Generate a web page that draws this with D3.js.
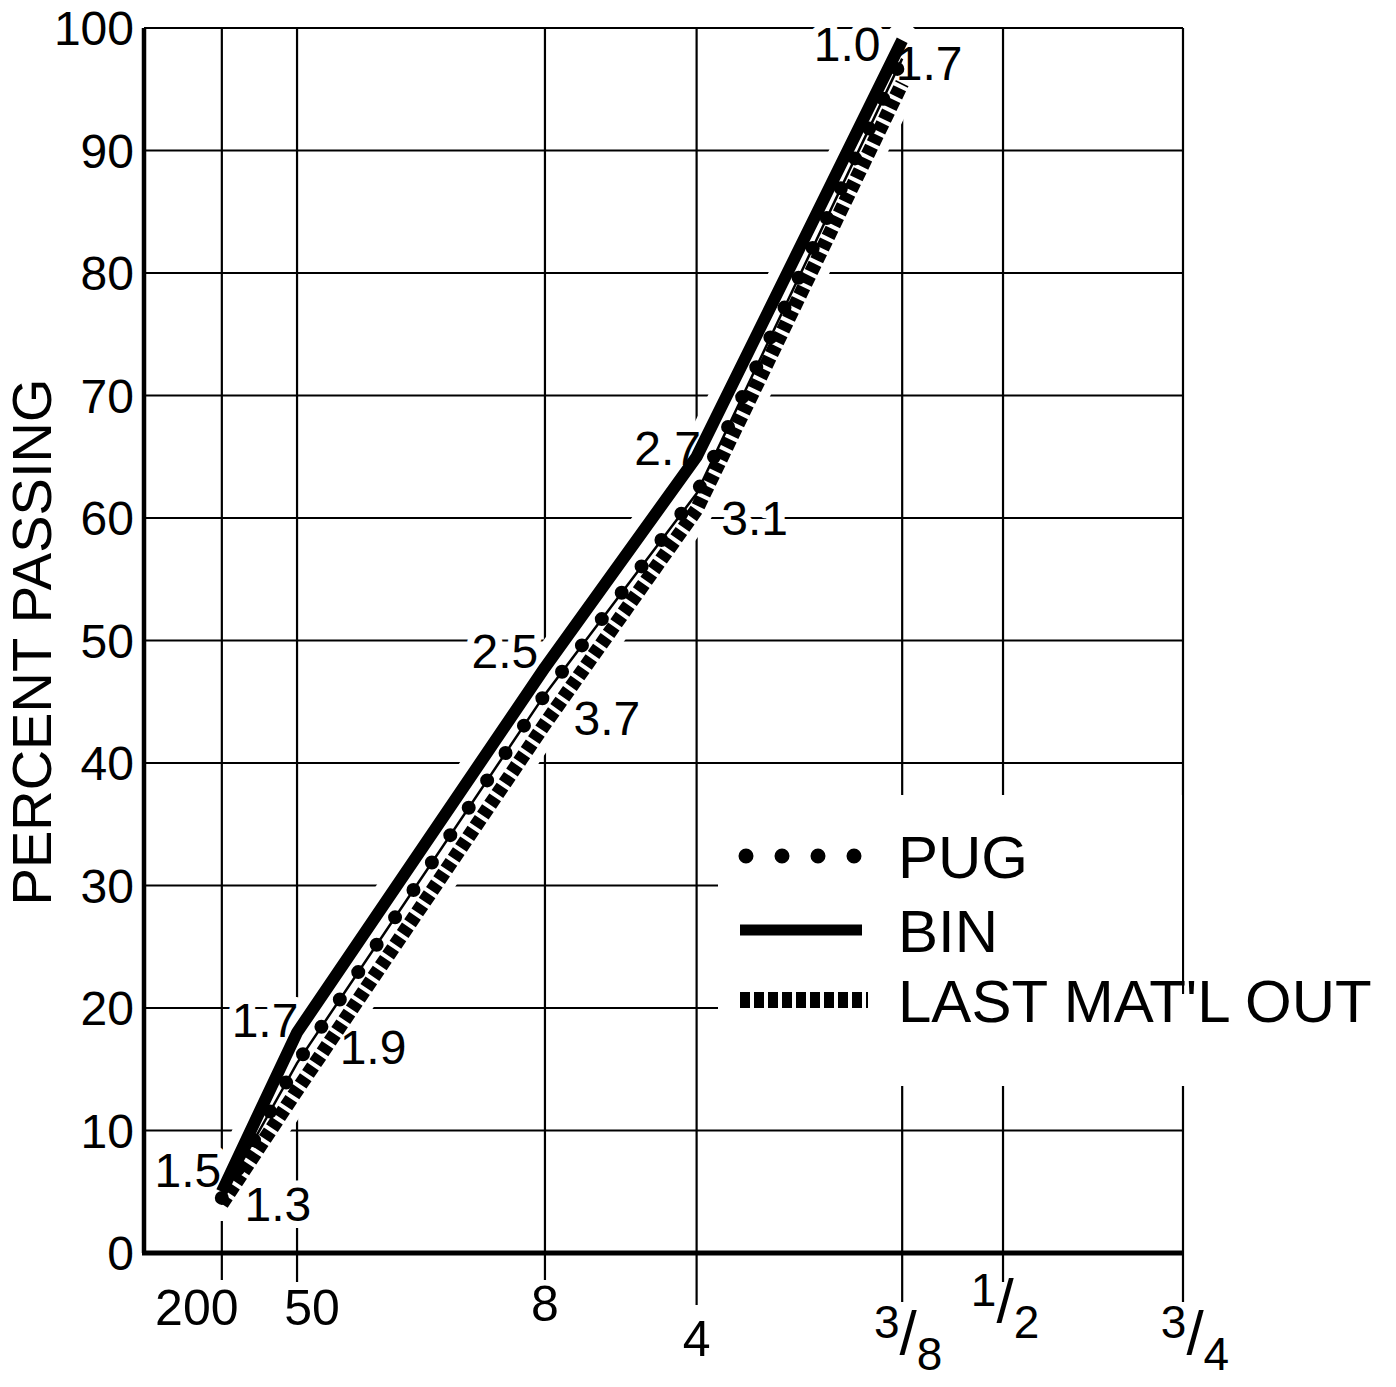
<!DOCTYPE html>
<html>
<head>
<meta charset="utf-8">
<script src="https://cdn.jsdelivr.net/npm/d3@7"></script>
<style>
  html, body { margin: 0; padding: 0; background: #fff; }
  svg { display: block; }
</style>
</head>
<body>
<script>
// sieve sizes (label, opening in mm) -- 0.45 power gradation chart
const sieveLabels = ["200", "50", "8", "4", "3/8", "1/2", "3/4"];
const sieveMM = [0.075, 0.3, 2.36, 4.75, 9.5, 12.5, 19];
const yTicks = [0, 10, 20, 30, 40, 50, 60, 70, 80, 90, 100];

// percent passing, for sieves 200 .. 3/8
const pugPct  = [4.5, 15.5, 45.6, 62.0, 97.5];
const binPct  = [5.0, 18.0, 47.8, 65.0, 99.0];
const lastPct = [4.0, 13.3, 43.2, 60.7, 95.5];

const seriesNames = ["PUG", "BIN", "LAST MAT'L OUT"];

// numbers written beside the curves
const noteText   = ["1.5", "1.3", "1.7", "1.9", "2.5", "3.7", "2.7", "3.1", "1.0", "1.7"];
const noteSeries = ["BIN", "LAST MAT'L OUT", "BIN", "LAST MAT'L OUT", "BIN", "LAST MAT'L OUT", "BIN", "LAST MAT'L OUT", "BIN", "LAST MAT'L OUT"];
const noteSieve  = [0, 0, 1, 1, 2, 2, 3, 3, 4, 4];

// layout only
const W = 1396, H = 1387;
const plot = { left: 144, right: 1183, top: 28, bottom: 1253 };
const noteOffset = [[-34, -22], [56, 0], [-32, -13], [76, -43], [-40, -17], [62, -6], [-29, -9], [58, 8], [-55, 3], [27, -20]];
const tickLen = [27, 29, 27, 52, 49, 29, 49];
const tickLabelPos = [[-25, 1307], [15, 1307], [0, 1303], [0, 1338], [6, 1350], [2, 1318], [12, 1350]];
const FONT = "'Liberation Sans', Arial, sans-serif";

const svg = d3.select("body").append("svg")
    .attr("width", W)
    .attr("height", H)
    .attr("viewBox", `0 0 ${W} ${H}`)
    .style("font-family", FONT);

svg.append("rect").attr("width", W).attr("height", H).attr("fill", "#fff");

const x = d3.scalePow().exponent(0.45).domain([0, 19]).range([135, 1183]);
const y = d3.scaleLinear().domain([0, 100]).range([plot.bottom, plot.top]);

// grid
const grid = svg.append("g");
grid.selectAll("line.h")
  .data(yTicks)
  .join("line")
    .attr("class", "h")
    .attr("x1", plot.left).attr("x2", plot.right)
    .attr("y1", d => y(d)).attr("y2", d => y(d))
    .attr("stroke", "#000")
    .attr("stroke-width", 2);

grid.selectAll("line.v")
  .data(sieveMM)
  .join("line")
    .attr("class", "v")
    .attr("x1", d => x(d)).attr("x2", d => x(d))
    .attr("y1", plot.top)
    .attr("y2", (d, i) => plot.bottom + tickLen[i])
    .attr("stroke", "#000")
    .attr("stroke-width", 2.2);

// axes
svg.append("line")
    .attr("x1", plot.left).attr("x2", plot.left)
    .attr("y1", plot.top).attr("y2", plot.bottom)
    .attr("stroke", "#000").attr("stroke-width", 4.5);
svg.append("line")
    .attr("x1", plot.left - 2).attr("x2", plot.right + 1)
    .attr("y1", plot.bottom).attr("y2", plot.bottom)
    .attr("stroke", "#000").attr("stroke-width", 5);

// y tick labels
svg.append("g").selectAll("text")
  .data(yTicks)
  .join("text")
    .attr("x", 134)
    .attr("y", d => y(d))
    .attr("dy", "0.36em")
    .attr("text-anchor", "end")
    .attr("font-size", 48)
    .text(d => d);

// x tick labels (fractions drawn as 3 / 8 with raised numerator)
const xl = svg.append("g").selectAll("text")
  .data(sieveLabels)
  .join("text")
    .attr("x", (d, i) => x(sieveMM[i]) + tickLabelPos[i][0])
    .attr("y", (d, i) => tickLabelPos[i][1])
    .attr("dy", "0.36em")
    .attr("text-anchor", "middle")
    .attr("font-size", 50);

xl.each(function(d) {
  const t = d3.select(this);
  if (d.includes("/")) {
    const [a, b] = d.split("/");
    t.append("tspan").attr("dy", -12).attr("font-size", 46).text(a);
    t.append("tspan").attr("dy", 16).attr("font-size", 62).text("/");
    t.append("tspan").attr("dy", 16).attr("font-size", 46).text(b);
  } else {
    t.text(d);
  }
});

// y title
svg.append("text")
    .attr("transform", "translate(31, 642) rotate(-90)")
    .attr("dy", "0.36em")
    .attr("text-anchor", "middle")
    .attr("font-size", 56)
    .text("PERCENT PASSING");

// curves
const seriesValues = { "PUG": pugPct, "BIN": binPct, "LAST MAT'L OUT": lastPct };
const line = d3.line()
    .x((d, i) => x(sieveMM[i]))
    .y(d => y(d));

const halos = svg.append("g");
// white halos first so grid is broken around the curves
[lastPct, pugPct, binPct].forEach(vals => {
  halos.append("path")
      .attr("d", line(vals))
      .attr("fill", "none")
      .attr("stroke", "#fff")
      .attr("stroke-width", 34)
      .attr("stroke-linejoin", "round")
      .attr("stroke-linecap", "round");
});

// annotations (below the curves, with a white halo that breaks the grid)
svg.append("g").selectAll("text")
  .data(noteText)
  .join("text")
    .attr("x", (d, i) => x(sieveMM[noteSieve[i]]) + noteOffset[i][0])
    .attr("y", (d, i) => y(seriesValues[noteSeries[i]][noteSieve[i]]) + noteOffset[i][1])
    .attr("dy", "0.36em")
    .attr("text-anchor", "middle")
    .attr("font-size", 48)
    .attr("stroke", "#fff")
    .attr("stroke-width", 14)
    .attr("stroke-linejoin", "round")
    .attr("paint-order", "stroke")
    .attr("fill", "#000")
    .text(d => d);

const curves = svg.append("g");

// LAST MAT'L OUT : hatched band
curves.append("path")
    .attr("d", line(lastPct))
    .attr("fill", "none")
    .attr("stroke", "#000")
    .attr("stroke-width", 14)
    .attr("stroke-dasharray", "9,4");

// PUG : thin line with dots
curves.append("path")
    .attr("d", line(pugPct))
    .attr("fill", "none")
    .attr("stroke", "#000")
    .attr("stroke-width", 2.5);
curves.append("path")
    .attr("d", line(pugPct))
    .attr("fill", "none")
    .attr("stroke", "#000")
    .attr("stroke-width", 14)
    .attr("stroke-linecap", "round")
    .attr("stroke-dasharray", "0,33");

// BIN : heavy solid
curves.append("path")
    .attr("d", line(binPct))
    .attr("fill", "none")
    .attr("stroke", "#000")
    .attr("stroke-width", 12)
    .attr("stroke-linejoin", "round");

// legend
const legend = svg.append("g");
legend.append("rect")
    .attr("x", 718).attr("y", 795)
    .attr("width", plot.right - 1 - 718).attr("height", 291)
    .attr("fill", "#fff");
legend.append("rect")
    .attr("x", plot.right - 2).attr("y", 994)
    .attr("width", 215).attr("height", 92)
    .attr("fill", "#fff");

const rowY = [856, 930, 1000];
const keyX0 = 740, keyX1 = 866;

legend.append("line")
    .attr("x1", keyX0 + 6).attr("x2", keyX1)
    .attr("y1", rowY[0]).attr("y2", rowY[0])
    .attr("stroke", "#000")
    .attr("stroke-width", 15)
    .attr("stroke-linecap", "round")
    .attr("stroke-dasharray", "0,36");
legend.append("line")
    .attr("x1", keyX0).attr("x2", keyX1 - 4)
    .attr("y1", rowY[1]).attr("y2", rowY[1])
    .attr("stroke", "#000")
    .attr("stroke-width", 11);
legend.append("line")
    .attr("x1", keyX0).attr("x2", keyX1 + 2)
    .attr("y1", rowY[2]).attr("y2", rowY[2])
    .attr("stroke", "#000")
    .attr("stroke-width", 16)
    .attr("stroke-dasharray", "10,4");

legend.selectAll("text")
  .data(seriesNames)
  .join("text")
    .attr("x", 898)
    .attr("y", (d, i) => rowY[i])
    .attr("dy", "0.36em")
    .attr("font-size", 60)
    .text(d => d);
</script>
</body>
</html>
